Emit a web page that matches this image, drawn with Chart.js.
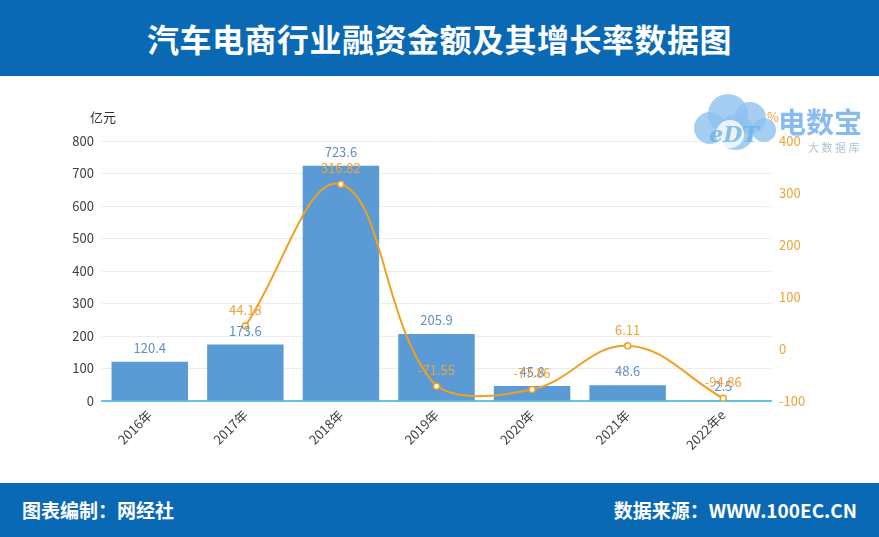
<!DOCTYPE html>
<html>
<head>
<meta charset="utf-8">
<script src="https://cdn.jsdelivr.net/npm/chart.js@4/dist/chart.umd.min.js"></script>
<style>
  html, body { margin: 0; padding: 0; background: #fff; }
  body { width: 879px; height: 537px; position: relative; overflow: hidden; font-family: "Noto Sans CJK SC", "Noto Sans", sans-serif; }
  .head { position: absolute; left: 0; top: 0; width: 879px; height: 76px; background: #0a69b5; color: #fff;
          font-size: 32px; font-weight: bold; text-align: center; line-height: 76px; letter-spacing: 0.5px; }
  .foot { position: absolute; left: 0; top: 483px; width: 879px; height: 54px; background: #0a69b5; color: #fff;
          font-size: 19px; font-weight: bold; line-height: 54px; }
  .foot .l { position: absolute; left: 22px; }
  .foot .r { position: absolute; right: 22px; }
  .wrap { position: absolute; left: 0; top: 76px; width: 879px; height: 407px; }
</style>
</head>
<body>
<div class="head">汽车电商行业融资金额及其增长率数据图</div>
<div class="wrap"><canvas id="chart" width="879" height="407"></canvas></div>
<div class="foot"><span class="l">图表编制：网经社</span><span class="r">数据来源：WWW.100EC.CN</span></div>
<script>
(function () {
    "use strict";

    // data
    const years = ["2016年", "2017年", "2018年", "2019年", "2020年", "2021年", "2022年e"];
    const amount = [120.4, 173.6, 723.6, 205.9, 45.8, 48.6, 2.5];        // 亿元
    const growth = [null, 44.18, 316.82, -71.55, -77.86, 6.11, -94.86];  // %
    const leftTicks = [0, 100, 200, 300, 400, 500, 600, 700, 800];
    const rightTicks = [-100, 0, 100, 200, 300, 400];

    const blue = "#5b9bd5";
    const orange = "#f29f1d";
    const font = "Noto Sans CJK SC";

    // value labels on bars and points
    const labels = {
        id: "labels",
        afterDatasetsDraw(chart) {
            const ctx = chart.ctx;
            ctx.save();
            ctx.font = "13px '" + font + "'";
            ctx.textAlign = "center";
            ctx.textBaseline = "middle";
            chart.getDatasetMeta(1).data.forEach((el, i) => {
                ctx.fillStyle = "#5f90cc";
                ctx.fillText(String(amount[i]), el.x, el.y - 14);
            });
            chart.getDatasetMeta(0).data.forEach((el, i) => {
                if (growth[i] === null) return;
                ctx.fillStyle = "#eea23a";
                ctx.fillText(String(growth[i]), el.x, el.y - 16);
            });
            ctx.restore();
        },
    };

    // unit captions and the watermark logo
    const extras = {
        id: "extras",
        afterDraw(chart) {
            const ctx = chart.ctx;
            const a = chart.chartArea;
            ctx.save();
            ctx.font = "13px '" + font + "'";
            ctx.textBaseline = "middle";
            ctx.fillStyle = "#333";
            ctx.textAlign = "left";
            ctx.fillText("亿元", a.left - 12, a.top - 24);
            ctx.fillStyle = "#eea23a";
            ctx.fillText("%", a.right - 4, a.top - 24);

            // logo (semi transparent)
            ctx.globalAlpha = 0.8;
            ctx.fillStyle = "#8ec2ef";
            const cx = 736, cy = 44;
            [[-26, 8, 16], [-8, -6, 20], [14, -2, 16], [28, 10, 12], [0, 12, 18]].forEach(([dx, dy, r]) => {
                ctx.beginPath();
                ctx.arc(cx + dx, cy + dy, r, 0, Math.PI * 2);
                ctx.fill();
            });
            ctx.fillStyle = "#fff";
            ctx.beginPath();
            ctx.arc(cx - 6, cy + 14, 14, 0, Math.PI * 2);
            ctx.fill();
            ctx.fillStyle = "#6fb0e8";
            ctx.font = "italic bold 22px 'DejaVu Serif'";
            ctx.textAlign = "center";
            ctx.fillText("eDT", cx - 2, cy + 16);
            ctx.fillStyle = "#6aaaf0";
            ctx.font = "bold 28px '" + font + "'";
            ctx.textAlign = "left";
            ctx.fillText("电数宝", 778, cy + 2);
            ctx.fillStyle = "#9bb3c9";
            ctx.font = "11px '" + font + "'";
            ctx.fillText("大 数 据 库", 808, cy + 28);
            ctx.restore();
        },
    };

    new Chart(document.getElementById("chart"), {
        data: {
            labels: years,
            datasets: [
                {
                    type: "line",
                    data: growth,
                    yAxisID: "y1",
                    borderColor: orange,
                    borderWidth: 2,
                    tension: 0.4,
                    pointRadius: 3,
                    pointBackgroundColor: "#fff",
                    pointBorderColor: orange,
                    pointBorderWidth: 1.5,
                    order: 0,
                },
                {
                    type: "bar",
                    data: amount,
                    yAxisID: "y",
                    backgroundColor: blue,
                    categoryPercentage: 0.8,
                    barPercentage: 1,
                    order: 1,
                },
            ],
        },
        options: {
            responsive: false,
            animation: false,
            layout: { padding: { top: 65, bottom: 0, left: 0, right: 0 } },
            plugins: {
                legend: { display: false },
                tooltip: { enabled: false },
            },
            scales: {
                x: {
                    grid: { display: false, drawTicks: false },
                    border: { color: "#63c3ee", width: 2 },
                    ticks: {
                        color: "#404040",
                        font: { family: font, size: 13 },
                        maxRotation: 45,
                        minRotation: 45,
                        padding: 6,
                    },
                    afterFit: (s) => { s.height = 82; },
                },
                y: {
                    position: "left",
                    min: 0,
                    max: 800,
                    afterBuildTicks: (s) => { s.ticks = leftTicks.map((v) => ({ value: v })); },
                    grid: { color: "#ececec", drawTicks: false },
                    border: { display: false },
                    ticks: { color: "#404040", font: { family: font, size: 13 }, padding: 8 },
                    afterFit: (s) => { s.width = 102; },
                },
                y1: {
                    position: "right",
                    min: -100,
                    max: 400,
                    afterBuildTicks: (s) => { s.ticks = rightTicks.map((v) => ({ value: v })); },
                    grid: { display: false, drawTicks: false },
                    border: { display: false },
                    ticks: { color: "#eea23a", font: { family: font, size: 13 }, padding: 8 },
                    afterFit: (s) => { s.width = 108; },
                },
            },
        },
        plugins: [labels, extras],
    });
})();
</script>
</body>
</html>
